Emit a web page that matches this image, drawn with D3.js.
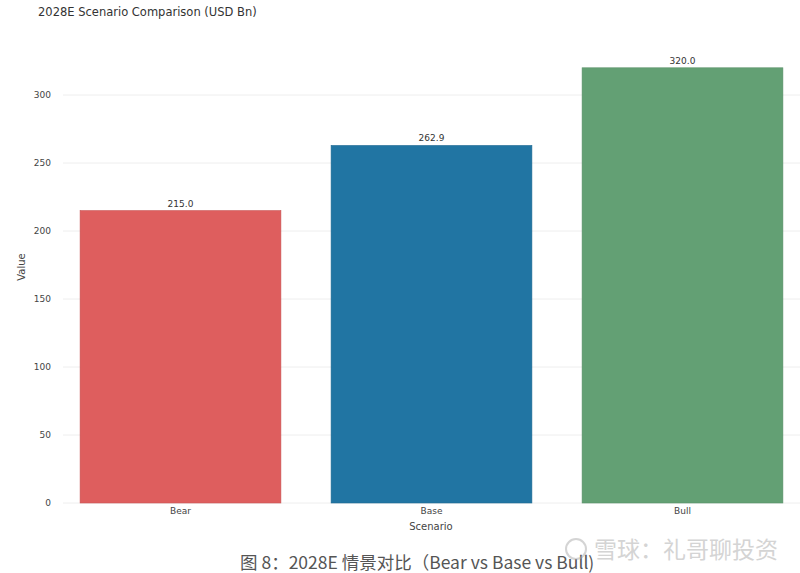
<!DOCTYPE html>
<html><head><meta charset="utf-8">
<script src="https://cdn.jsdelivr.net/npm/d3@7"></script>
<style>body{margin:0;background:#fff}svg{display:block}</style>
</head><body>
<svg id="c" width="800" height="573"></svg>
<script>
const categories = ["Bear", "Base", "Bull"];
const values = [215.0, 262.9, 320.0];
const colors = ["#de5e5e", "#2175a3", "#63a074"];
const yTicks = [0, 50, 100, 150, 200, 250, 300];
const title = "2028E Scenario Comparison (USD Bn)";
const caption = "图 8：2028E 情景对比（Bear vs Base vs Bull)";
const watermark = "雪球：礼哥聊投资";

const svg = d3.select("#c");
const font = "'DejaVu Sans', Verdana, sans-serif";
const x = d3.scaleBand().domain(categories).range([55, 808]).paddingInner(0.2).paddingOuter(0.1);
const y = d3.scaleLinear().domain([0, 300]).range([503, 95]);

// gridlines
svg.append("g").selectAll("line").data(yTicks).join("line")
  .attr("x1", 63).attr("x2", 800)
  .attr("y1", d => y(d)).attr("y2", d => y(d))
  .attr("stroke", "#eeeeee").attr("stroke-width", 1);

// y axis
const ya = svg.append("g").attr("transform", "translate(55,0)")
  .call(d3.axisLeft(y).tickValues(yTicks).tickSize(0).tickPadding(4));
ya.select(".domain").remove();
ya.selectAll("text").attr("font-family", font).attr("font-size", 9).attr("fill", "#444");

// x axis
const xa = svg.append("g").attr("transform", "translate(0,503)")
  .call(d3.axisBottom(x).tickSize(0).tickPadding(5));
xa.select(".domain").remove();
xa.selectAll("text").attr("font-family", font).attr("font-size", 9).attr("fill", "#444");

// bars
const data = categories.map((c, i) => ({c, v: values[i], col: colors[i]}));
svg.append("g").selectAll("rect").data(data).join("rect")
  .attr("x", d => x(d.c)).attr("width", x.bandwidth())
  .attr("y", d => y(d.v)).attr("height", d => y(0) - y(d.v))
  .attr("fill", d => d.col)
  .attr("stroke", d => d3.color(d.col).darker(0.3)).attr("stroke-width", 0.6);

// value labels
svg.append("g").selectAll("text").data(data).join("text")
  .attr("x", d => x(d.c) + x.bandwidth() / 2).attr("y", d => y(d.v) - 4)
  .attr("text-anchor", "middle").attr("font-family", font).attr("font-size", 9).attr("fill", "#333")
  .text(d => d.v.toFixed(1));

// title
svg.append("text").attr("x", 38).attr("y", 16).attr("font-family", font).attr("font-size", 11.5)
  .attr("fill", "#333").text(title);

// axis titles
svg.append("text").attr("x", 431).attr("y", 530).attr("text-anchor", "middle")
  .attr("font-family", font).attr("font-size", 10).attr("fill", "#444").text("Scenario");
svg.append("text").attr("transform", "translate(25,267) rotate(-90)").attr("text-anchor", "middle")
  .attr("font-family", font).attr("font-size", 10).attr("fill", "#444").text("Value");

// caption
svg.append("text").attr("x", 240).attr("y", 569)
  .attr("font-family", "'Noto Sans CJK SC', sans-serif").attr("font-size", 17.5).attr("fill", "#555")
  .text(caption);

// watermark
const wm = svg.append("g").attr("opacity", 0.5);
wm.append("circle").attr("cx", 576).attr("cy", 549).attr("r", 10).attr("fill", "none").attr("stroke", "#aaa").attr("stroke-width", 2);
wm.append("text").attr("x", 594).attr("y", 558)
  .attr("font-family", "'Noto Sans CJK SC', sans-serif").attr("font-size", 23).attr("fill", "#aaa")
  .text(watermark);
</script>
</body></html>
